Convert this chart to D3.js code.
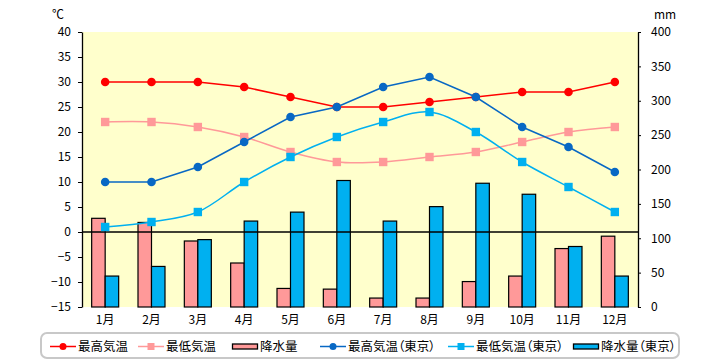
<!DOCTYPE html>
<html><head><meta charset="utf-8">
<script src="https://cdn.jsdelivr.net/npm/d3@7"></script>
<style>
html,body{margin:0;padding:0;background:#fff;}
svg{display:block;font-family:"Noto Sans CJK JP","Noto Sans",sans-serif;}
.palt{font-feature-settings:"palt";}
</style></head>
<body>
<svg id="c" width="720" height="360"></svg>
<script>
// ---- data ----
const months = ["1月","2月","3月","4月","5月","6月","7月","8月","9月","10月","11月","12月"];
const maxTemp = [30,30,30,29,27,25,25,26,27,28,28,30];
const minTemp = [22,22,21,19,16,14,14,15,16,18,20,21];
const precip = [129,123,96,64,27,26,13,13,37,45,85,103];
const maxTempTokyo = [10,10,13,18,23,25,29,31,27,21,17,12];
const minTempTokyo = [1,2,4,10,15,19,22,24,20,14,9,4];
const precipTokyo = [45,59,98,125,138,184,125,146,180,164,88,45];
const leftTicks = [-15,-10,-5,0,5,10,15,20,25,30,35,40];
const rightTicks = [0,50,100,150,200,250,300,350,400];
const seriesNames = ["最高気温","最低気温","降水量","最高気温（東京）","最低気温（東京）","降水量（東京）"];

// ---- layout ----
const svg = d3.select("#c");
const L = 82, R = 638, T = 32, B = 307;
const x = d3.scaleBand().domain(months).range([L, R]).paddingInner(0).paddingOuter(0);
const xb = d3.scaleBand().domain([0,1]).range([0, x.bandwidth()]).paddingInner(0).paddingOuter(0.716);
const yL = d3.scaleLinear().domain([-15,40]).range([B, T]);
const yR = d3.scaleLinear().domain([0,400]).range([B, T]);

const C = {red:"#ff0000", pink:"#ff9999", blue:"#0868c4", cyan:"#00b0f0", bg:"#ffffcc"};

svg.append("rect").attr("x", L).attr("y", T).attr("width", R-L).attr("height", B-T).attr("fill", C.bg);

// bars
const barSeries = [{vals:precip, color:C.pink, k:0},{vals:precipTokyo, color:C.cyan, k:1}];
barSeries.forEach(s => {
  svg.append("g").selectAll("rect").data(s.vals).join("rect")
    .attr("x", (d,i) => x(months[i]) + xb(s.k))
    .attr("width", xb.bandwidth())
    .attr("y", d => yR(d))
    .attr("height", d => yR(0) - yR(d))
    .attr("fill", s.color).attr("stroke", "#000").attr("stroke-width", 1.2);
});

// zero line
svg.append("line").attr("x1", L).attr("x2", R).attr("y1", yL(0)).attr("y2", yL(0))
  .attr("stroke", "#000").attr("stroke-width", 1.3);

// axes
const fontSize = 12;
const axL = svg.append("g").attr("transform", `translate(${L},0)`)
  .call(d3.axisLeft(yL).tickValues(leftTicks).tickSize(4).tickSizeOuter(0).tickPadding(7));
const axR = svg.append("g").attr("transform", `translate(${R},0)`)
  .call(d3.axisRight(yR).tickValues(rightTicks).tickSize(3).tickSizeOuter(0).tickPadding(10));
[axL, axR].forEach(a => {
  a.select(".domain").attr("stroke", "#000").attr("stroke-width", 1.3);
  a.selectAll(".tick line").attr("stroke", "#000");
  a.selectAll("text").attr("font-size", fontSize).attr("fill", "#000")
    .attr("font-family", '"Noto Sans CJK JP",sans-serif');
});
const axX = svg.append("g").attr("transform", `translate(0,${B})`)
  .call(d3.axisBottom(x).tickSize(0).tickPadding(8));
axX.select(".domain").remove();
axX.selectAll("text").attr("font-size", fontSize).attr("fill", "#000")
  .attr("font-family", '"Noto Sans CJK JP",sans-serif');

svg.append("text").attr("x", 52).attr("y", 19).attr("font-size", 12).text("℃");
svg.append("text").attr("x", 654).attr("y", 19).attr("font-size", 12).text("mm");

// lines
const cx = (d,i) => x(months[i]) + x.bandwidth()/2;
const lineSeries = [
  {vals:maxTemp, color:C.red, marker:"circle", curve:d3.curveLinear},
  {vals:minTemp, color:C.pink, marker:"square", curve:d3.curveCatmullRom.alpha(0.5)},
  {vals:maxTempTokyo, color:C.blue, marker:"circle", curve:d3.curveLinear},
  {vals:minTempTokyo, color:C.cyan, marker:"square", curve:d3.curveCatmullRom.alpha(0.5)}
];
lineSeries.forEach(s => {
  const line = d3.line().x(cx).y(d => yL(d)).curve(s.curve);
  svg.append("path").attr("d", line(s.vals)).attr("fill", "none")
    .attr("stroke", s.color).attr("stroke-width", 1.5);
  const g = svg.append("g");
  if (s.marker === "circle") {
    g.selectAll("circle").data(s.vals).join("circle")
      .attr("cx", cx).attr("cy", d => yL(d)).attr("r", 4.3).attr("fill", s.color);
  } else {
    g.selectAll("rect").data(s.vals).join("rect")
      .attr("x", (d,i) => cx(d,i) - 4.2).attr("y", d => yL(d) - 4.2)
      .attr("width", 8.4).attr("height", 8.4).attr("fill", s.color);
  }
});

// legend
svg.append("rect").attr("x", 41).attr("y", 333).attr("width", 638).attr("height", 25)
  .attr("rx", 6).attr("fill", "#fff").attr("stroke", "#c8c8c8").attr("stroke-width", 2);
const legendX = [50, 138, 232, 320, 448, 573];
const legendKinds = [
  {type:"line", color:C.red, marker:"circle"},
  {type:"line", color:C.pink, marker:"square"},
  {type:"bar", color:C.pink},
  {type:"line", color:C.blue, marker:"circle"},
  {type:"line", color:C.cyan, marker:"square"},
  {type:"bar", color:C.cyan}
];
const ly = 346.5;
legendKinds.forEach((k, i) => {
  const g = svg.append("g").attr("transform", `translate(${legendX[i]},${ly})`);
  if (k.type === "line") {
    g.append("line").attr("x1", 0).attr("x2", 26).attr("y1", 0).attr("y2", 0)
      .attr("stroke", k.color).attr("stroke-width", 1.5);
    if (k.marker === "circle") g.append("circle").attr("cx", 13).attr("r", 3.5).attr("fill", k.color);
    else g.append("rect").attr("x", 9.5).attr("y", -3.5).attr("width", 7).attr("height", 7).attr("fill", k.color);
  } else {
    g.append("rect").attr("x", 0.5).attr("y", -2.5).attr("width", 25).attr("height", 5)
      .attr("fill", k.color).attr("stroke", "#000").attr("stroke-width", 1.3);
  }
  g.append("text").attr("class", "palt").attr("x", 28).attr("y", 0).attr("dy", "0.36em")
    .attr("font-size", 12.5).attr("fill", "#000").text(seriesNames[i]);
});
</script>
</body></html>
